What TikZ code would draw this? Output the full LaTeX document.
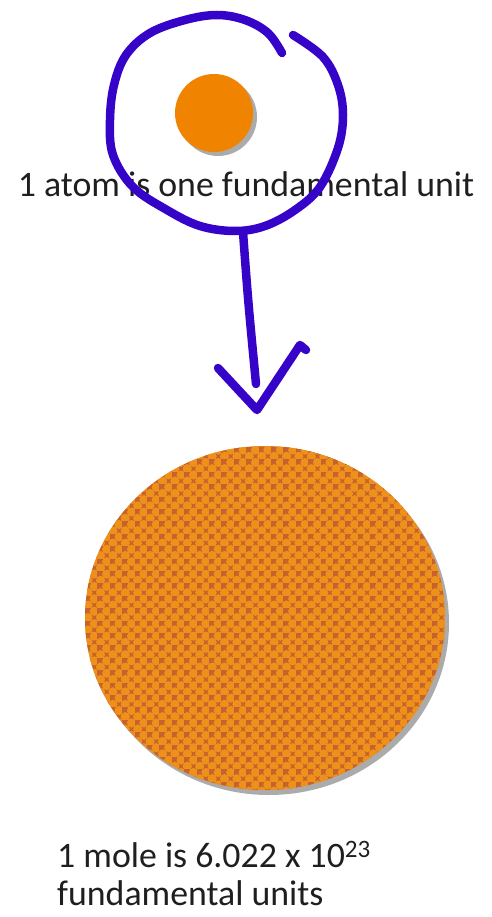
\documentclass[tikz,border=0pt]{standalone}
\usepackage{fontspec}
\setmainfont{Carlito}
\usetikzlibrary{positioning,shapes.geometric}

\definecolor{atomorange}{HTML}{F08300}
\definecolor{molebase}{HTML}{E2821F}
\definecolor{moledark}{HTML}{C6622E}
\definecolor{molelight}{HTML}{EE911B}
\definecolor{penblue}{HTML}{3604C8}

\begin{document}
\begin{tikzpicture}[
    x=1pt, y=-1pt,
    font=\fontsize{35.8}{38}\selectfont,
    words/.style={text=black!88, inner sep=0pt},
    ink/.style={draw=penblue, line width=8.5pt, line cap=round, line join=round},
    shade/.style={fill=black!60, opacity=0.55}
]
\useasboundingbox (0,0) rectangle (491,917);

% one atom
\fill[shade] (218,117) circle (39pt);
\node[circle, fill=atomorange, minimum size=78pt, inner sep=0pt] (atom) at (214,113) {};
\node[words, anchor=base] (atomtext) at (246,197) {1 atom is one fundamental unit};

% one mole
\fill[shade] (269,623) ellipse [x radius=180pt, y radius=172pt];
\node[ellipse, fill=molebase, minimum width=360pt, minimum height=344pt, inner sep=0pt] (mole) at (265,618) {};
\begin{scope}
    \clip (mole.center) ellipse [x radius=180pt, y radius=172pt];
    \foreach \i in {0,...,29} {
        \foreach \j in {0,...,28} {
            \fill[moledark] (85+12.4*\i,447+12.4*\j) rectangle ++(6.2,6.2);
            \fill[moledark] (91.2+12.4*\i,453.2+12.4*\j) rectangle ++(6.2,6.2);
            \fill[molelight] (94.3+12.4*\i,450.1+12.4*\j) circle (4.6pt);
            \fill[molelight] (88.1+12.4*\i,456.3+12.4*\j) circle (4.6pt);
        }
    }
\end{scope}
\node[words, anchor=base west, align=left] (moletext) at (57,867)
    {1 mole is 6.022 x 10\textsuperscript{23}};
\node[words, anchor=base west] (moletext2) at (57,905) {fundamental units};

% hand-drawn ring and arrow
\coordinate (ringbot) at (243,232);
\coordinate (stemend) at (256,384);
\coordinate (tip) at (257,410);
\draw[ink] plot[smooth, tension=0.6] coordinates {(293,35) (323,57) (338,85) (343,115)
    (338,148) (320,187) (295,210) (265,226) (235,231) (200,226) (167,210) (133,187)
    (113,155) (110,120) (114,85) (126,55) (150,33) (185,20) (217,15) (245,20) (268,33) (282,53)};
\draw[ink] (ringbot) .. controls (248,300) .. (stemend);
\draw[ink] (218,368) -- (tip) -- (300,345) -- (306,350);

\end{tikzpicture}
\end{document}
